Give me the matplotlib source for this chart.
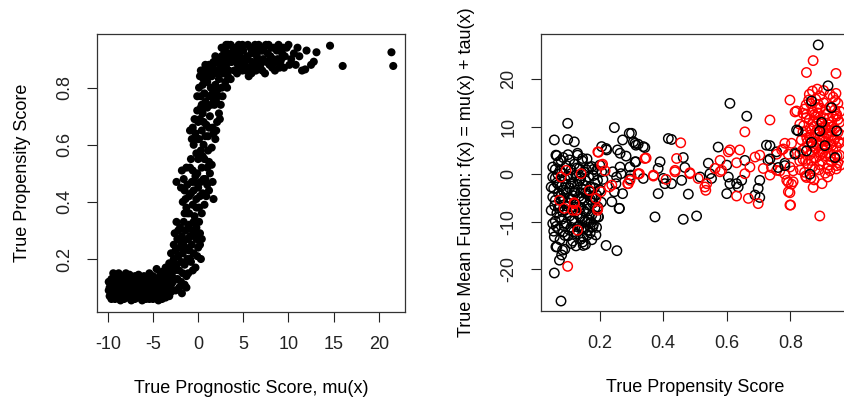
import numpy as np
import matplotlib
matplotlib.use("Agg")
import matplotlib.pyplot as plt

plt.rcParams['font.family'] = ['Liberation Sans', 'DejaVu Sans']

# ---- left panel: prognostic score vs propensity score
flat_pts = [(-9.9,0.09),(-9.9,0.12),(-9.8,0.07),(-9.8,0.10),(-9.6,0.06),(-9.6,0.13),(-9.6,0.085),
    (-9.4,0.15),(-9.4,0.11),(-9.4,0.075),(-9.2,0.06),(-9.2,0.095),(-9.2,0.13),(-9.0,0.14),(-9.0,0.08),
    (-9.0,0.115),(-8.8,0.065),(-8.8,0.10),(-8.8,0.15),(-8.6,0.12),(-8.6,0.085),(-8.6,0.055),(-8.4,0.14),
    (-8.4,0.105),(-8.4,0.07),(-8.2,0.09),(-8.2,0.125),(-8.2,0.06),(-8.0,0.15),(-8.0,0.075),(-8.0,0.11),
    (-7.8,0.065),(-7.8,0.13),(-7.8,0.095),(-7.6,0.145),(-7.6,0.08),(-7.6,0.12),(-7.4,0.055),(-7.4,0.10),
    (-7.4,0.135),(-7.2,0.085),(-7.2,0.115),(-7.2,0.07),(-7.0,0.14),(-7.0,0.06),(-7.0,0.10),(-6.8,0.125),
    (-6.8,0.08),(-6.8,0.11),(-6.6,0.065),(-6.6,0.145),(-6.6,0.095),(-6.4,0.12),(-6.4,0.075),(-6.4,0.135),
    (-6.2,0.055),(-6.2,0.105),(-6.2,0.09),(-6.0,0.14),(-6.0,0.07),(-6.0,0.12),(-5.8,0.085),(-5.8,0.11),
    (-5.8,0.06),(-5.6,0.13),(-5.6,0.095),(-5.6,0.075),(-5.4,0.06),(-5.4,0.115),(-5.4,0.15),(-5.2,0.09),
    (-5.2,0.07),(-5.2,0.125),(-5.0,0.14),(-5.0,0.105),(-5.0,0.06),(-4.8,0.08),(-4.8,0.12),(-4.8,0.095),
    (-4.6,0.165),(-4.6,0.065),(-4.6,0.11),(-4.4,0.13),(-4.4,0.085),(-4.4,0.055),(-4.2,0.10),(-4.2,0.145),
    (-4.2,0.075),(-4.0,0.12),(-4.0,0.06),(-4.0,0.09),(-4.0,0.155),(-3.8,0.135),(-3.8,0.08),(-3.8,0.105),
    (-3.6,0.065),(-3.6,0.115),(-3.6,0.17),(-3.4,0.09),(-3.4,0.145),(-3.4,0.075),(-3.4,0.125),(-3.2,0.16),
    (-3.2,0.10),(-3.2,0.07),(-3.2,0.185),(-3.0,0.13),(-3.0,0.085),(-3.0,0.155),(-3.0,0.11)]

rise_pts = [(-2.8,0.12),(-2.7,0.2),(-2.6,0.16),(-2.5,0.23),(-2.5,0.09),(-2.4,0.18),(-2.3,0.13),(-2.3,0.27),
    (-2.2,0.21),(-2.1,0.1),(-2.1,0.16),(-2.0,0.24),(-2.0,0.31),(-1.9,0.19),(-1.9,0.12),(-1.8,0.28),
    (-1.8,0.08),(-1.7,0.22),(-1.7,0.15),(-1.6,0.33),(-1.6,0.26),(-1.5,0.18),(-1.5,0.11),(-1.4,0.24),
    (-1.4,0.3),(-1.3,0.14),(-1.3,0.1),(-1.2,0.2),(-1.2,0.36),(-1.1,0.27),(-1.0,0.23),(-1.0,0.32),
    (-0.9,0.28),(-0.8,0.19),(-0.7,0.25),(-0.6,0.3),(-0.5,0.22),(-0.3,0.17),(-0.2,0.27),(0.0,0.24),
    (0.2,0.29),(0.3,0.2),(0.1,0.33),(-2.6,0.29),(-2.9,0.17),(-2.4,0.33),
    (-2.2,0.3),(-1.9,0.26),(-1.1,0.15),(-0.9,0.2),(-0.6,0.16),(-0.4,0.28),(-0.1,0.21),(0.2,0.25),
    (0.4,0.27),(-1.5,0.36),(-1.1,0.31),(-0.5,0.33),(-0.2,0.31),(0.0,0.29),(-2.7,0.25),(-3.0,0.22),
    (-2.9,0.14),
    (-2.4,0.47),(-1.8,0.51),(-0.9,0.52),(-1.7,0.4),(-1.5,0.44),(-1.3,0.38),(-1.2,0.46),(-1.0,0.42),
    (-1.0,0.36),(-0.7,0.47),(-0.6,0.39),(-0.5,0.44),(-0.4,0.35),(-0.3,0.49),(-0.2,0.41),(0.0,0.45),
    (0.1,0.38),(0.3,0.47),(0.5,0.43),(0.7,0.39),(0.8,0.48),(1.0,0.46),(1.2,0.44),(1.7,0.41),(1.5,0.53),
    (-0.8,0.55),(0.4,0.52),(-1.6,0.48),
    (-1.4,0.41),(-0.8,0.43),(-0.4,0.47),(-0.1,0.5),(0.2,0.42),(0.6,0.48),(0.9,0.42),(1.3,0.5),
    (-1.3,0.52),(-0.6,0.51),(0.0,0.55),(0.5,0.56),(1.0,0.52),(1.6,0.47),(-1.9,0.45),(-0.2,0.38),
    (0.4,0.36)]

upper_pts = [(-0.9,0.65),(-0.7,0.62),(-0.5,0.6),(-0.3,0.64),(-0.2,0.57),(0.0,0.68),(0.1,0.62),(0.2,0.69),
    (0.3,0.58),(0.4,0.65),(0.5,0.71),(0.6,0.6),(0.7,0.55),(0.9,0.67),(1.0,0.73),(1.1,0.63),(1.3,0.7),
    (1.5,0.59),(1.6,0.66),(1.8,0.74),(1.9,0.62),(2.1,0.68),(2.3,0.71),(2.5,0.74),(1.2,0.54),(-0.4,0.69),
    (0.8,0.75),(1.7,0.64),
    (-0.6,0.66),(-0.1,0.72),(0.3,0.73),(0.6,0.68),(1.2,0.66),(1.4,0.74),(2.0,0.65),(2.4,0.69),
    (2.2,0.77),(0.0,0.62),(0.8,0.63),(1.6,0.78),(2.7,0.77),(1.1,0.58),(0.2,0.56),(-0.1,0.77),
    (0.1,0.8),(0.2,0.84),(0.3,0.77),(0.5,0.81),(0.7,0.78),(0.9,0.85),(1.0,0.82),(1.2,0.77),(1.4,0.8),
    (1.5,0.84),(1.7,0.76),(1.9,0.81),(2.1,0.79),(2.3,0.83),(2.6,0.8),(2.8,0.85),(3.0,0.82),(3.3,0.84),
    (3.6,0.83),(0.4,0.74),(2.0,0.75),
    (0.6,0.83),(1.3,0.86),(2.5,0.86),(3.2,0.8),(0.3,0.86),(0.5,0.86),(0.7,0.86)]

plateau_pts = [(1.0,0.87),(1.2,0.88),(1.4,0.88),(1.6,0.88),(1.8,0.86),(2.0,0.89),(2.2,0.9),(2.4,0.87),
    (2.6,0.91),(2.8,0.88),(3.0,0.94),(3.2,0.9),(3.4,0.86),(3.5,0.92),(3.7,0.89),(3.9,0.94),(4.0,0.86),
    (4.2,0.91),(4.4,0.88),(4.5,0.95),(4.7,0.9),(4.9,0.86),(5.0,0.93),(5.2,0.88),(5.4,0.91),(5.5,0.95),
    (5.7,0.87),(5.9,0.92),(6.0,0.89),(6.2,0.94),(6.4,0.86),(6.5,0.91),(6.7,0.95),(6.9,0.88),(7.0,0.93),
    (7.2,0.9),(7.4,0.85),(7.5,0.95),(7.7,0.92),(7.9,0.88),(8.1,0.94),(8.3,0.9),(8.5,0.86),(8.7,0.93),
    (8.9,0.95),(9.1,0.89),(9.3,0.92),(9.5,0.87),(9.8,0.94),(10.0,0.95),(10.3,0.9),(10.6,0.92),
    (10.8,0.88),(11.2,0.91),(11.5,0.86),(11.85,0.864),(12.0,0.93),(12.5,0.88),(12.8,0.891),(13.1,0.924),
    (14.6,0.947),(16.0,0.876),(21.4,0.924),(21.6,0.876),
    (2.1,0.85),(3.3,0.95),(3.1,0.87),(3.6,0.95),(4.1,0.93),(4.6,0.87),(5.1,0.9),(5.6,0.84),(6.1,0.87),
    (6.6,0.89),(7.1,0.86),(7.6,0.89),(8.0,0.91),(8.4,0.94),(9.0,0.87),(2.6,0.94),(2.3,0.9),(2.9,0.92),
    (3.8,0.91),(4.3,0.85),(4.8,0.93),(5.3,0.86),(5.8,0.94),(6.3,0.92),(6.8,0.93),(7.3,0.94),(8.2,0.87),
    (8.8,0.9),(9.6,0.91),(1.3,0.84),(0.8,0.88),(1.1,0.86),
    (1.9,0.91),(2.7,0.89),(3.3,0.92),(4.0,0.9),(4.4,0.93),(5.0,0.88),(5.5,0.9),(6.0,0.93),(6.6,0.87),
    (7.2,0.93),(7.8,0.95),(8.6,0.89),(9.4,0.94),(10.1,0.88),(11.0,0.94),(3.1,0.95),(4.9,0.95),
    (6.3,0.95),(3.4,0.89),(2.9,0.93),(4.6,0.91),(9.2,0.9),(5.9,0.85),(1.7,0.89)]

# ---- right panel: propensity score vs f(x); black = control, red = treated
ctrl_low = [(0.099,10.7),(0.057,7.2),(0.099,7.3),(0.12,6.8),(0.246,9.8),(0.293,8.6),(0.22,5.4),(0.256,5.1),
    (0.272,7.2),(0.314,6.1),(0.283,3.8),(0.314,2.6),(0.062,4.0),(0.052,1.5),(0.078,2.9),(0.13,4.4),
    (0.146,3.3),(0.167,1.5),(0.241,0.5),(0.267,0.1),(0.298,-0.2),(0.251,-2.0),(0.246,-3.7),(0.272,-4.1),
    (0.262,-7.2),(0.22,-15.0),(0.254,-16.1),(0.178,-11.1),(0.188,-9.0),(0.194,-6.9),(0.162,-11.8),
    (0.146,-14.3),(0.11,-14.6),(0.083,-16.0),(0.073,-18.1),(0.057,-20.8),(0.078,-26.7),(0.057,-13.2),
    (0.062,-15.3),(0.052,-10.4),(0.047,-7.6),(0.052,-4.8),(0.047,-2.7),(0.052,-0.6),
    (0.055,-3.0),(0.06,-5.5),(0.06,1.0),(0.065,-8.2),(0.065,-1.8),(0.07,-11.5),(0.07,-4.0),(0.07,2.5),
    (0.075,-6.8),(0.075,-13.8),(0.08,-2.5),(0.08,-9.5),(0.08,0.3),(0.085,-5.0),(0.085,-12.2),(0.085,3.5),
    (0.09,-7.6),(0.09,-1.0),(0.09,-15.8),(0.095,-3.8),(0.095,-10.4),(0.095,1.8),(0.1,-6.0),(0.1,-13.0),
    (0.1,-0.4),(0.105,-8.8),(0.105,-2.9),(0.105,3.0),(0.11,-11.2),(0.11,-5.2),(0.11,0.9),(0.115,-14.1),
    (0.115,-7.4),(0.115,-1.7),(0.12,-9.8),(0.12,-3.6),(0.12,2.1),(0.125,-12.6),(0.125,-6.2),(0.125,-0.2),
    (0.13,-8.4),(0.13,-2.2),(0.13,4.0),(0.135,-10.9),(0.135,-4.7),(0.135,1.2),(0.14,-13.7),(0.14,-7.0),
    (0.14,-0.9),(0.145,-9.2),(0.145,-3.1),(0.145,2.8),(0.15,-11.6),(0.15,-5.6),(0.15,0.5),(0.155,-14.8),
    (0.155,-8.0),(0.155,-1.4),(0.16,-10.1),(0.16,-4.2),(0.16,3.2),(0.165,-6.5),(0.165,-0.6),(0.17,-12.4),
    (0.17,-2.7),(0.175,-8.6),(0.175,1.6),(0.18,-5.0),(0.18,-10.6),(0.185,-1.9),(0.19,-4.4),(0.19,0.8),
    (0.195,-9.0),(0.2,-3.3),(0.2,1.9),(0.205,-5.9),(0.21,-1.1),(0.06,-9.9),(0.065,-15.3),(0.07,-7.1),
    (0.075,0.8),(0.08,-17.0),(0.085,-3.4),(0.09,-12.9),(0.095,-6.7),(0.1,4.1),(0.105,-11.8),(0.11,-2.0),
    (0.115,-4.5),(0.12,-6.9),(0.125,-15.1),(0.13,-11.1),(0.135,-1.5),(0.14,-3.9),(0.145,-11.3),
    (0.15,-7.7),(0.155,-3.9),(0.16,-12.9),(0.165,-9.6),(0.17,-5.3),(0.175,-13.8),(0.18,-0.3),
    (0.185,-7.1),(0.19,-11.2),(0.055,-12.0),(0.06,-0.8),(0.065,3.9),(0.07,-2.2),
    (0.058,-6.6),(0.063,-11.0),(0.068,0.0),(0.073,-9.0),(0.078,-4.6),(0.083,-7.9),(0.088,-10.9),
    (0.093,-2.1),(0.098,-8.1),(0.103,-5.0),(0.108,-0.6),(0.113,-9.7),(0.118,-12.1),(0.123,-3.9),
    (0.128,1.3),(0.133,-6.9),(0.138,-8.9),(0.143,-5.1),(0.148,-2.3),(0.153,-10.0),(0.158,0.9),
    (0.163,-7.3),(0.168,-3.7),(0.173,-10.2),(0.178,-6.1),(0.183,-2.9),(0.188,-12.8),(0.193,-1.3),
    (0.206,5.8),(0.222,5.1),(0.264,4.4),(0.18,1.0),(0.206,0.5),(0.264,1.5),(0.253,-0.6),(0.2,-3.4),
    (0.175,-4.8),(0.196,-9.0),(0.169,-11.1),(0.148,-13.2),(0.148,-15.0),(0.238,-5.8),(0.261,-7.2),
    (0.306,6.8),(0.321,6.3),(0.342,5.6),
    (0.61,14.9),(0.663,12.2),(0.3,8.6),(0.311,6.5),(0.337,5.8),(0.416,7.5),(0.426,7.3),(0.311,2.6),
    (0.39,2.6),(0.384,1.2),(0.463,3.5),(0.468,1.4),(0.542,2.3),(0.337,-0.9),(0.4,-0.9),(0.405,-2.0),
    (0.426,-2.0),(0.458,-1.3),(0.384,-4.1),(0.479,-4.2),(0.516,-0.6),(0.547,0.1),(0.552,-0.9),
    (0.573,5.7),(0.6,1.9),(0.605,-0.6),(0.61,-2.0),(0.6,-4.1),(0.631,-2.0),(0.636,-2.7),(0.647,-1.3),
    (0.657,2.9),(0.704,-1.3),(0.699,-3.0),(0.689,-4.4),(0.704,-4.9),(0.725,6.1),(0.73,2.9),(0.757,4.7),
    (0.783,2.3),(0.815,4.5),(0.374,-9.0),(0.463,-9.5),(0.505,-8.8),(0.295,1.5),(0.295,-1.0)]

ctrl_high = [(0.888,27.2),(0.919,18.6),(0.867,15.4),(0.93,14.0),(0.899,10.9),(0.893,9.1),(0.909,6.0),
    (0.867,6.7),(0.825,9.1),(0.851,4.9),(0.815,4.2),(0.783,1.8),(0.736,6.0),(0.736,3.2),(0.762,1.4),
    (0.862,0.0),(0.946,9.1),(0.941,3.5),(0.82,9.3)]

treated = [(0.194,4.7),(0.209,2.1),(0.23,-2.7),(0.204,-3.7),(0.188,-5.1),(0.194,-7.2),(0.141,0.1),
    (0.167,-3.4),(0.094,0.8),(0.078,-0.6),(0.073,-5.5),(0.12,-6.2),(0.115,-7.6),(0.13,-11.8),
    (0.088,-7.2),(0.288,-2.0),(0.325,0.1),(0.099,-19.4),(0.119,-6.0),(0.126,-7.6),(0.193,-7.6),
    (0.196,4.6),(0.206,1.9),(0.217,0.7),(0.238,-2.3),(0.29,-2.0),(0.321,0.0),(0.346,3.4),(0.369,-0.2),
    (0.409,-1.1),(0.437,0.5),(0.484,0.1),(0.537,-2.0),(0.534,-3.4),(0.579,0.5),(0.605,4.7),
    (0.799,15.6),(0.815,13.1),(0.736,11.4),(0.657,8.9),(0.455,6.6),(0.342,3.3),(0.442,3.3),(0.321,0.1),
    (0.369,-0.4),(0.437,0.8),(0.484,0.3),(0.51,-0.9),(0.531,-2.7),(0.579,2.9),(0.61,5.1),(0.641,5.1),
    (0.584,0.8),(0.631,2.4),(0.673,1.5),(0.689,3.6),(0.704,4.0),(0.657,0.1),(0.631,-4.6),(0.668,-5.1),
    (0.699,-6.2),(0.715,1.2),(0.736,-0.2),(0.757,0.8),(0.773,5.1),(0.783,6.5),(0.804,6.5),(0.799,1.5),
    (0.789,-1.3),(0.809,-1.6),(0.794,-3.7),(0.799,-6.5),(0.563,1.2),(0.295,-1.3),
    (0.872,23.9),(0.851,21.4),(0.944,21.2),(0.944,17.0),(0.82,13.3),(0.893,16.5),(0.888,14.7),
    (0.851,12.6),(0.946,12.6),(0.778,5.3),(0.794,4.2),(0.757,4.2),(0.741,1.4),(0.767,0.7),(0.783,0.0),
    (0.809,0.7),(0.794,-1.7),(0.804,-2.1),(0.799,-3.9),(0.801,-6.5),(0.872,-2.8),(0.893,-8.8),
    (0.946,1.8),(0.925,0.7),(0.851,-0.7),(0.83,2.8),
    (0.83,10.5),(0.835,7.2),(0.84,3.1),(0.84,12.8),(0.845,5.5),(0.845,0.4),(0.85,9.0),(0.85,14.6),
    (0.855,2.2),(0.855,6.8),(0.86,11.5),(0.86,4.0),(0.865,8.3),(0.865,-0.8),(0.87,13.2),(0.87,5.9),
    (0.87,1.5),(0.875,10.1),(0.875,7.5),(0.88,3.4),(0.88,15.8),(0.88,12.0),(0.885,6.2),(0.885,9.4),
    (0.89,0.9),(0.89,4.7),(0.89,11.3),(0.895,7.9),(0.895,13.9),(0.9,2.8),(0.9,9.8),(0.9,5.3),
    (0.905,15.0),(0.905,11.9),(0.91,6.9),(0.91,0.2),(0.91,3.9),(0.915,8.6),(0.915,12.7),(0.92,4.5),
    (0.92,10.4),(0.92,1.9),(0.925,6.4),(0.925,14.2),(0.93,8.1),(0.93,2.6),(0.93,11.0),(0.935,5.0),
    (0.935,16.2),(0.94,7.4),(0.94,3.3),(0.94,9.6),(0.945,12.2),(0.945,5.8),(0.95,8.8),(0.95,2.4),
    (0.95,14.9),(0.955,6.6),(0.955,10.9),(0.86,16.8),(0.875,-1.2),(0.9,-2.0),(0.84,8.9),(0.85,11.9),
    (0.865,2.9),(0.88,8.7),(0.895,4.1),(0.91,10.0),(0.925,9.2),(0.94,13.5),(0.955,4.0),(0.87,17.5),
    (0.885,14.0),(0.9,7.0),(0.915,5.5),(0.93,6.0),(0.945,1.1),(0.83,4.3),(0.845,13.7),(0.86,7.8),
    (0.875,12.5),(0.89,6.5),(0.905,9.3),(0.92,7.8),(0.935,12.1),(0.95,11.5),
    (0.832,0.9),(0.838,5.0),(0.842,10.2),(0.848,2.9),(0.852,7.6),(0.858,15.6),(0.862,9.6),(0.868,4.6),
    (0.872,11.0),(0.878,1.0),(0.882,5.5),(0.887,12.9),(0.892,2.0),(0.897,10.6),(0.902,4.4),(0.907,7.7),
    (0.912,13.5),(0.917,1.2),(0.922,11.8),(0.927,3.7),(0.932,9.9),(0.937,7.0),(0.942,15.5),(0.947,3.9),
    (0.952,6.9),(0.957,13.2),(0.905,17.6),(0.925,16.8),(0.865,14.8),(0.885,17.9),(0.848,-0.4),
    (0.918,-0.6),(0.958,8.3),(0.958,1.9)]

left_xticks = [-10, -5, 0, 5, 10, 15, 20]
left_yticks = [0.2, 0.4, 0.6, 0.8]
right_xticks = [0.2, 0.4, 0.6, 0.8]
right_yticks = [-20, -10, 0, 10, 20]

FS = 13

fig = plt.figure(figsize=(8.44, 4.05), dpi=100)
ax1 = fig.add_axes([97/844, 1-312/405, 308/844, 278/405])
ax2 = fig.add_axes([541/844, 1-311/405, 308/844, 277/405])

for pts in [flat_pts, rise_pts, upper_pts, plateau_pts]:
    a = np.array(pts)
    ax1.scatter(a[:, 0], a[:, 1], s=34, c='black', edgecolors='none')

ax1.set_xlim(-11.2, 22.9)
ax1.set_ylim(0.0144, 0.988)
ax1.set_xticks(left_xticks)
ax1.set_xticklabels([str(v) for v in left_xticks])
ax1.set_yticks(left_yticks)
ax1.set_yticklabels([str(v) for v in left_yticks], rotation=90, va='center')
ax1.set_xlabel("True Prognostic Score, mu(x)", fontsize=FS, labelpad=20)
ax1.set_ylabel("True Propensity Score", fontsize=FS, labelpad=18)

# control first, then treated, then the control points sitting in the red cloud
ms = 46
a = np.array(ctrl_low)
ax2.scatter(a[:, 0], a[:, 1], s=ms, facecolors='none', edgecolors='black', linewidths=1.05)
a = np.array(treated)
ax2.scatter(a[:, 0], a[:, 1], s=ms, facecolors='none', edgecolors='red', linewidths=1.05)
a = np.array(ctrl_high)
ax2.scatter(a[:, 0], a[:, 1], s=ms, facecolors='none', edgecolors='black', linewidths=1.05)

ax2.set_xlim(0.015, 0.985)
ax2.set_ylim(-28.8, 29.5)
ax2.set_xticks(right_xticks)
ax2.set_xticklabels([str(v) for v in right_xticks])
ax2.set_yticks(right_yticks)
ax2.set_yticklabels([str(v) for v in right_yticks], rotation=90, va='center')
ax2.set_xlabel("True Propensity Score", fontsize=FS, labelpad=20)
ax2.set_ylabel("True Mean Function: f(x) = mu(x) + tau(x)", fontsize=FS, labelpad=18)

for ax in [ax1, ax2]:
    ax.tick_params(direction='out', length=7, width=0.8, labelsize=FS, pad=10, colors='#222222')
    for sp in ax.spines.values():
        sp.set_linewidth(0.9)
        sp.set_color('#333333')

fig.savefig("out.png", dpi=100)
